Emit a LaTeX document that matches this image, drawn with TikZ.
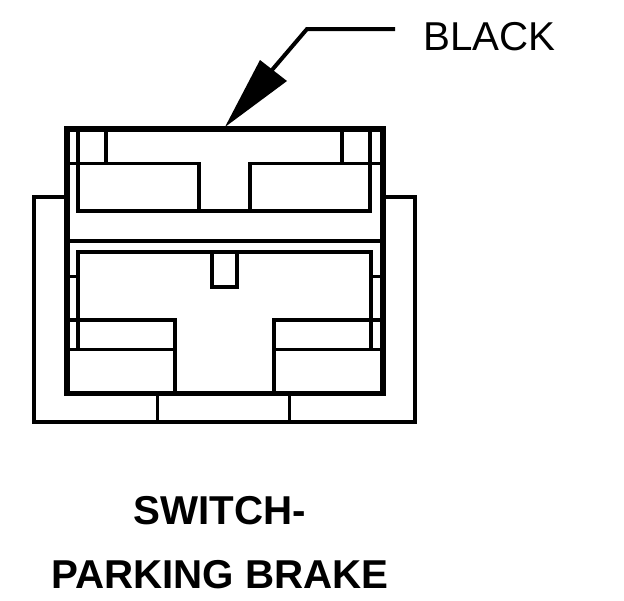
\documentclass[tikz,border=0pt]{standalone}
\usepackage{fontspec}
\setmainfont{Liberation Sans}
\tikzset{
  thick line/.style={line width=5.6pt,line join=miter},
  mid line/.style={line width=4pt,line join=miter},
  thin line/.style={line width=3.2pt},
  label text/.style={inner sep=0pt,anchor=base,font=\fontsize{40.3}{41}\selectfont},
  title text/.style={inner sep=0pt,anchor=base,font=\fontsize{40.3}{42}\bfseries\selectfont}
}
\begin{document}
\begin{tikzpicture}[x=1pt,y=-1pt]
\useasboundingbox (0,0) rectangle (624,600);
% back plate
\draw[mid line] (67,197) -- (34,197) -- (34,422) -- (415,422) -- (415,197) -- (383,197);
\draw[thin line] (157.5,396) -- (157.5,420) (289.5,396) -- (289.5,420);
% upper section
\draw[mid line] (78,131) -- (78,210.7) -- (370,210.7) -- (370,131);
\draw[mid line] (106,131) -- (106,163.3) (342,131) -- (342,163.3);
\draw[thin line] (70,163.3) -- (199,163.3) -- (199,210) (380,163.3) -- (250,163.3) -- (250,210);
\draw[mid line] (70,241) -- (380,241);
% lower section
\draw[mid line] (78,349) -- (78,252) -- (371,252) -- (371,349);
\draw[mid line] (212,252) -- (212,286.7) -- (237,286.7) -- (237,252);
\draw[thin line] (70,276.5) -- (78,276.5) (372,276.5) -- (380,276.5);
\draw[mid line] (70,320) -- (175,320) -- (175,391) (380,320) -- (274,320) -- (274,391);
\draw[thin line] (70,349.5) -- (175,349.5) (274,349.5) -- (380,349.5);
% connector body
\draw[thick line] (67,393.5) -- (67,129) -- (383,129) -- (383,393.5) -- cycle;
% arrow
\coordinate (tip) at (225,127);
\coordinate (bend) at (307,29);
\coordinate (end) at (395,29);
\draw[mid line] (end) -- (bend) -- (272,70);
\fill (tip) -- (260,60) -- (287,81) -- cycle;
% texts
\node[label text] (black) at (489.5,50) {BLACK};
\node[title text] (t1) at (219.5,524) {SWITCH-};
\node[title text] (t2) at (220,588) {PARKING BRAKE};
\end{tikzpicture}
\end{document}
